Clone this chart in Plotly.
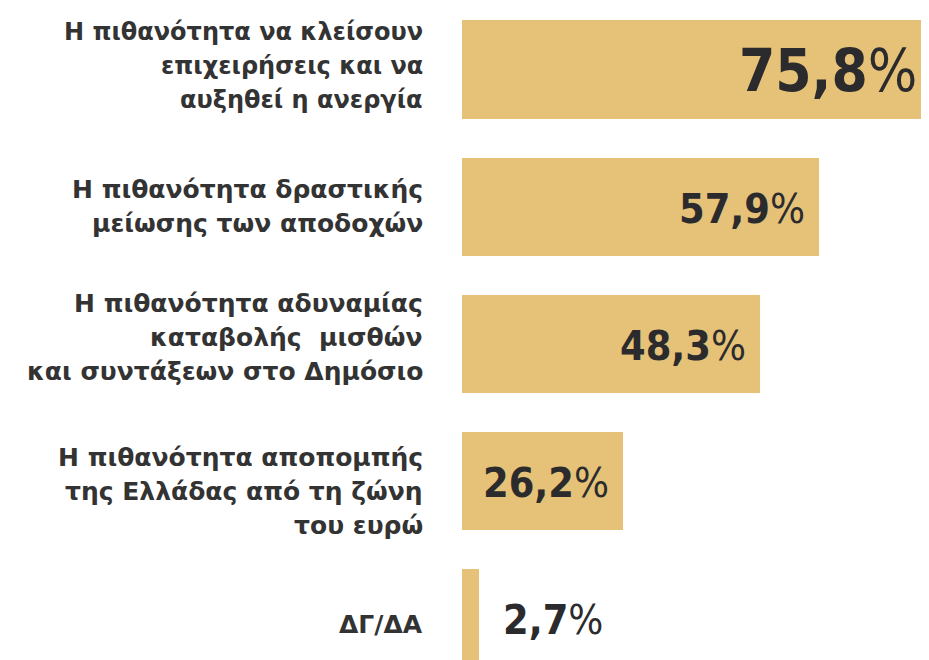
import plotly.graph_objects as go

labels = [
    ["Η πιθανότητα να κλείσουν", "επιχειρήσεις και να", "αυξηθεί η ανεργία"],
    ["Η πιθανότητα δραστικής", "μείωσης των αποδοχών"],
    ["Η πιθανότητα αδυναμίας", "καταβολής  μισθών", "και συντάξεων στο Δημόσιο"],
    ["Η πιθανότητα αποπομπής", "της Ελλάδας από τη ζώνη", "του ευρώ"],
    ["ΔΓ/ΔΑ"],
]
values = [75.8, 57.9, 48.3, 26.2, 2.7]
value_text = ["75,8", "57,9", "48,3", "26,2", "2,7"]
positions = [0, 1, 2, 3, 4]

# layout tweaks (pixel offsets of label blocks)
label_yshift = [3, 0, 7, -10, -6]
label_size = [24, 25, 25, 25, 25]

BAR = "#e5c277"
TXT = "#333333"
VAL = "#2b2b2e"
FONT = "DejaVu Sans"
VFONT = "DejaVu Sans Condensed, Liberation Sans Narrow, DejaVu Sans"

fig = go.Figure(go.Bar(
    x=values, y=positions, orientation="h",
    marker=dict(color=BAR, line=dict(width=0)),
    width=0.715, hoverinfo="skip",
))

line_h = 34
for i, lines in enumerate(labels):
    n = len(lines)
    for j, ln in enumerate(lines):
        off = ((n - 1) / 2 - j) * line_h + label_yshift[i]
        fig.add_annotation(
            x=0, xref="paper", y=positions[i], yref="y",
            text=f"<b>{ln}</b>", showarrow=False,
            xanchor="right", yanchor="middle", xshift=-37, yshift=off,
            font=dict(family=FONT, size=label_size[i], color=TXT),
        )

for i, (v, t) in enumerate(zip(values, value_text)):
    big = i == 0
    if v < 10:
        fig.add_annotation(
            x=v, y=positions[i], text=f"<b>{t}</b>%", showarrow=False,
            xanchor="left", yanchor="middle", xshift=22, yshift=-1,
            font=dict(family=VFONT, size=41, color=VAL),
        )
    else:
        fig.add_annotation(
            x=v, y=positions[i], text=f"<b>{t}</b>%", showarrow=False,
            xanchor="right", yanchor="middle",
            xshift=-10 if big else -12, yshift=-2,
            font=dict(family=VFONT, size=58 if big else 41, color=VAL),
        )

fig.update_layout(
    width=921, height=652,
    margin=dict(l=454, r=0, t=0, b=0),
    plot_bgcolor="white", paper_bgcolor="white",
    showlegend=False, bargap=0,
    xaxis=dict(range=[0, 75.81], visible=False, fixedrange=True),
    yaxis=dict(range=[4.302, -0.448], visible=False, fixedrange=True),
)

fig.write_html("out.html", config={"displayModeBar": False})
